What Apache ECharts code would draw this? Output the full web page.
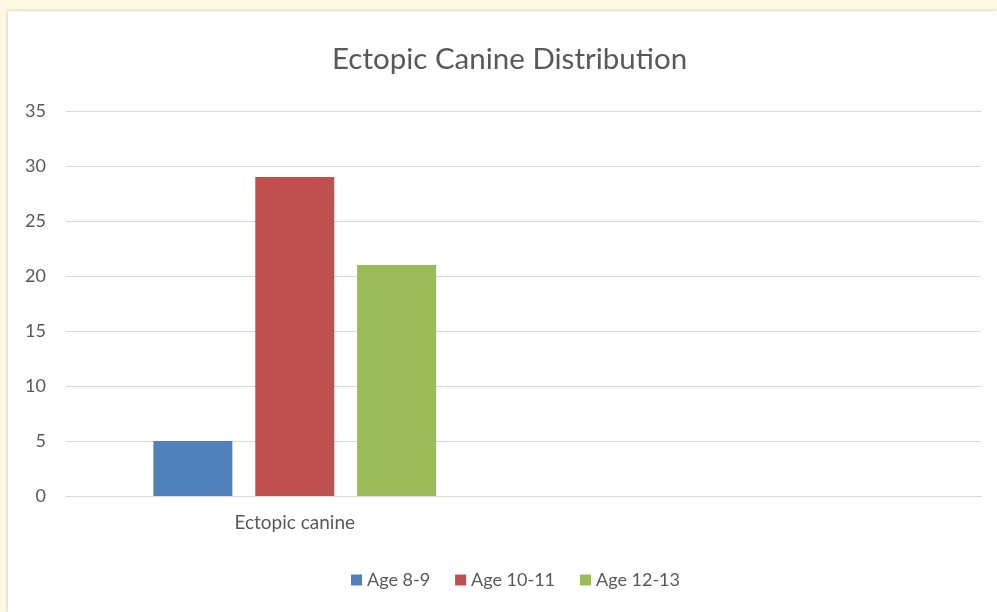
<!DOCTYPE html>
<html>
<head>
<meta charset="utf-8">
<script src="https://cdn.jsdelivr.net/npm/echarts@6/dist/echarts.min.js"></script>
<style>
html,body{margin:0;padding:0;width:997px;height:612px;background:#fff8e4;overflow:hidden;}
#chart{position:absolute;left:8px;top:11px;width:989px;height:601px;background:#ffffff;box-shadow:0 0 3px rgba(0,0,0,0.25);}
</style>
</head>
<body>
<div id="chart"></div>
<script>
const categories = ['Ectopic canine', ''];
const seriesNames = ['Age 8-9', 'Age 10-11', 'Age 12-13'];
const age89 = [5, null];
const age1011 = [29, null];
const age1213 = [21, null];
const colors = ['#4f81bd', '#c0504d', '#9bbb59'];
const yMin = 0, yMax = 35, yInterval = 5;

const chart = echarts.init(document.getElementById('chart'), null, {renderer: 'canvas'});
const font = 'Lato, "Open Sans", sans-serif';
const dataSets = [age89, age1011, age1213];
chart.setOption({
  animation: false,
  backgroundColor: '#ffffff',
  title: {
    text: 'Ectopic Canine Distribution',
    left: 319, top: 28,
    textStyle: {fontFamily: font, fontSize: 29.5, fontWeight: 'normal', color: '#595959'}
  },
  legend: {
    bottom: 18, left: 338,
    itemWidth: 11, itemHeight: 11, itemGap: 25,
    icon: 'rect',
    textStyle: {fontFamily: font, fontSize: 18, color: '#595959'},
    data: seriesNames
  },
  grid: {left: 58, right: 16, top: 100, bottom: 116, containLabel: false},
  xAxis: {
    type: 'category', data: categories,
    axisLine: {lineStyle: {color: '#d9d9d9', width: 1}},
    axisTick: {show: false},
    axisLabel: {fontFamily: font, fontSize: 19, color: '#595959', margin: 17}
  },
  yAxis: {
    type: 'value', min: yMin, max: yMax, interval: yInterval,
    axisLine: {show: false}, axisTick: {show: false},
    axisLabel: {fontFamily: font, fontSize: 18, color: '#595959', margin: 20},
    splitLine: {lineStyle: {color: '#d9d9d9', width: 1}}
  },
  series: seriesNames.map((n, i) => ({
    name: n, type: 'bar', data: dataSets[i],
    barWidth: 79, barGap: '29%',
    itemStyle: {color: colors[i]}
  }))
});
</script>
</body>
</html>
